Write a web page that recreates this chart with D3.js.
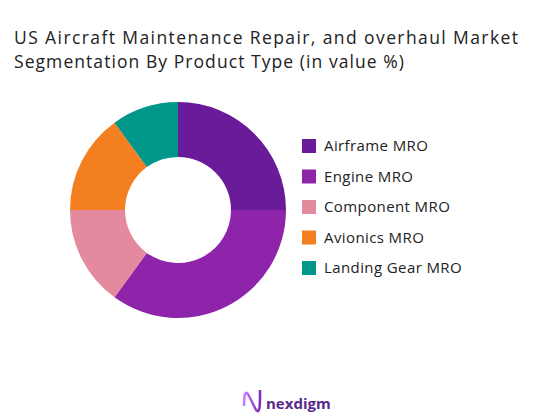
<!DOCTYPE html><html><head><meta charset="utf-8">
<script src="https://cdn.jsdelivr.net/npm/d3@7"></script>
<style>body{margin:0;background:#fff}</style></head><body><svg id="c" width="553" height="413"></svg>
<script>
const categories=["Airframe MRO","Engine MRO","Component MRO","Avionics MRO","Landing Gear MRO"];
const values=[25,35,15,15,10];
const colors=["#6a1b9a","#8e24aa","#e38a9f","#f47f20","#00968a"];
const F="'Open Sans', sans-serif";
const svg=d3.select("#c");
svg.append("text").attr("x",14).attr("y",44).attr("font-family",F).attr("font-weight",500).attr("font-size",17.5).attr("fill","#222").attr("textLength",504).text("US Aircraft Maintenance Repair, and overhaul Market");
svg.append("text").attr("x",14).attr("y",68).attr("font-family",F).attr("font-weight",500).attr("font-size",17.5).attr("fill","#222").attr("textLength",390).text("Segmentation By Product Type (in value %)");
const pie=d3.pie().sort(null)(values);
const arc=d3.arc().innerRadius(53).outerRadius(108);
const g=svg.append("g").attr("transform","translate(178,210)");
g.selectAll("path").data(pie).enter().append("path").attr("d",arc).attr("fill",(d,i)=>colors[i]);
const y=d3.scalePoint().domain(categories).range([146,268]);
const lg=svg.append("g");
categories.forEach((c,i)=>{
 lg.append("rect").attr("x",302).attr("y",y(c)-7).attr("width",14).attr("height",14).attr("fill",colors[i]);
 lg.append("text").attr("x",324).attr("y",y(c)+5).attr("font-family",F).attr("font-size",15).attr("letter-spacing",0.4).attr("fill","#222").text(c);
});
const lgc=svg.append("g").attr("transform","translate(243,392)");
const grad=lgc.append("defs").append("linearGradient").attr("id","lgr");
grad.append("stop").attr("offset","0").attr("stop-color","#c77dff");
grad.append("stop").attr("offset","1").attr("stop-color","#7b2cbf");
lgc.append("path").attr("d","M1,14 C1,0 3,-2 6,4 L12,16 C15,22 17,20 17,6 L17,-2").attr("fill","none").attr("stroke","url(#lgr)").attr("stroke-width",2.5);
svg.append("text").attr("x",266).attr("y",409).attr("font-family",F).attr("font-weight","bold").attr("font-size",15).attr("fill","#5a2a8a").text("nexdigm");
</script></body></html>
